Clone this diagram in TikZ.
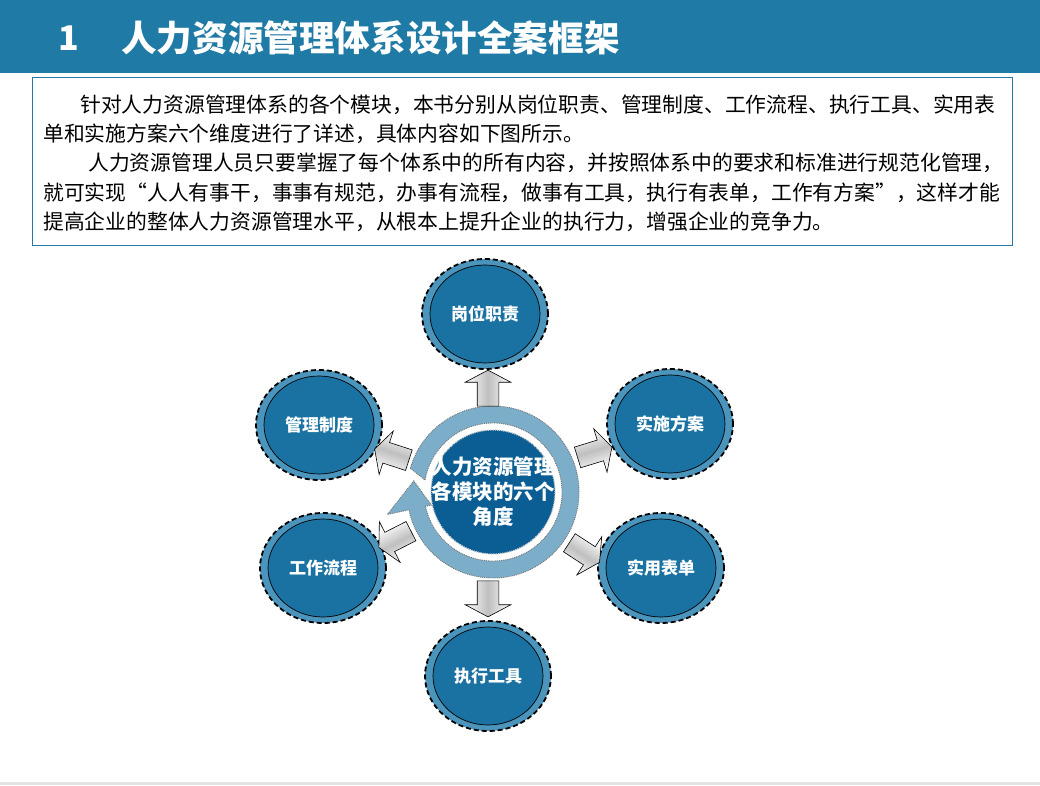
\documentclass[tikz,border=0pt]{standalone}
\usepackage{fontspec}
\newfontfamily\cjk{Noto Sans CJK SC}
\usetikzlibrary{shapes.geometric,shapes.arrows}
\definecolor{headerblue}{RGB}{32,122,166}
\definecolor{boxblue}{RGB}{40,120,165}
\definecolor{satouter}{RGB}{75,148,188}
\definecolor{satinner}{RGB}{26,114,162}
\definecolor{ringblue}{RGB}{124,174,202}
\definecolor{coreblue}{RGB}{10,94,147}
\begin{document}
\begin{tikzpicture}[x=1pt,y=1pt,
  bodytext/.style={anchor=west, inner sep=0pt, text=black, font=\cjk\fontsize{20.8}{25}\selectfont},
  satring/.style={ellipse, minimum width=126pt, minimum height=110pt, inner sep=0pt, fill=satouter, draw=black, line width=1.8pt, dash pattern=on 5pt off 3pt},
  satcore/.style={ellipse, minimum width=110pt, minimum height=98pt, inner sep=0pt, fill=satinner, draw=black, line width=0.7pt, text=white, font=\cjk\bfseries\fontsize{17}{20}\selectfont},
  blockarrow/.style={single arrow, draw=black, line width=0.6pt, minimum height=36pt, inner xsep=0pt, inner ysep=10.5pt, single arrow head extend=12pt, single arrow tip angle=124, shading=axis, top color=white, bottom color=white, middle color=gray!50}
]
\useasboundingbox (0,0) rectangle (1040,785);
% header
\node[fill=headerblue, minimum width=1040pt, minimum height=73pt, anchor=north west, inner sep=0pt] (header) at (0,785) {};
\node[anchor=center, inner sep=0pt, text=white, font=\cjk\bfseries\fontsize{34}{40}\selectfont] (tnum) at (69,747) {1};
\node[anchor=west, inner sep=0pt, text=white, font=\cjk\bfseries\fontsize{35.6}{40}\selectfont] (title) at (121,747) {人力资源管理体系设计全案框架};
% text box
\node[draw=boxblue, line width=1pt, minimum width=980pt, minimum height=168pt, anchor=south west, inner sep=0pt] (box) at (32,539) {};
\node[bodytext] (l1) at (80,680) {针对人力资源管理体系的各个模块，本书分别从岗位职责、管理制度、工作流程、执行工具、实用表};
\node[bodytext] (l2) at (43,651) {单和实施方案六个维度进行了详述，具体内容如下图所示。};
\node[bodytext] (l3) at (88,622) {人力资源管理人员只要掌握了每个体系中的所有内容，并按照体系中的要求和标准进行规范化管理，};
\node[bodytext] (l4) at (43,592) {就可实现“人人有事干，事事有规范，办事有流程，做事有工具，执行有表单，工作有方案”，这样才能};
\node[bodytext] (l5) at (43,563) {提高企业的整体人力资源管理水平，从根本上提升企业的执行力，增强企业的竞争力。};
% centre ring arrow
\coordinate (C) at (493,293);
\begin{scope}[shift={(C)}]
\path[fill=ringblue, draw=black!55, densely dotted, line width=0.9pt]
  (164:86) arc[start angle=164, end angle=-168, radius=86]
  -- (-168:108) -- (172:80) -- (-168:63) -- (-168:69)
  arc[start angle=-168, end angle=170, radius=69] -- cycle;
\end{scope}
\node[circle, minimum size=124pt, inner sep=0pt, fill=coreblue, draw=gray!40, densely dotted, line width=1.2pt] (core) at (C) {};
\node[align=center, inner sep=0pt, text=white, font=\cjk\bfseries\fontsize{20.5}{25}\selectfont] (ctext) at (C) {人力资源管理\\各模块的六个\\角度};
% satellites
\node[satring] (r1) at (485,471) {};
\node[satcore] (s1) at (r1) {岗位职责};
\node[satring] (r2) at (670,361) {};
\node[satcore] (s2) at (r2) {实施方案};
\node[satring] (r3) at (661,217) {};
\node[satcore] (s3) at (r3) {实用表单};
\node[satring] (r4) at (488,109) {};
\node[satcore] (s4) at (r4) {执行工具};
\node[satring] (r5) at (323,217) {};
\node[satcore] (s5) at (r5) {工作流程};
\node[satring] (r6) at (319,360) {};
\node[satcore] (s6) at (r6) {管理制度};
% block arrows
\node[blockarrow, rotate=90, shading angle=90] (a1) at (488,394) {};
\node[blockarrow, rotate=17, shading angle=17] (a2) at (592,332) {};
\node[blockarrow, rotate=-33, shading angle=-33] (a3) at (582,234) {};
\node[blockarrow, rotate=-90, shading angle=-90] (a4) at (488,189) {};
\node[blockarrow, rotate=207, shading angle=207] (a5) at (397.5,247) {};
\node[blockarrow, rotate=162, shading angle=162] (a6) at (394.5,329.5) {};
% bottom rule
\coordinate (bl) at (0,1.5);
\coordinate (br) at (1040,1.5);
\draw[gray!22, line width=2.5pt] (bl) -- (br);
\end{tikzpicture}
\end{document}
